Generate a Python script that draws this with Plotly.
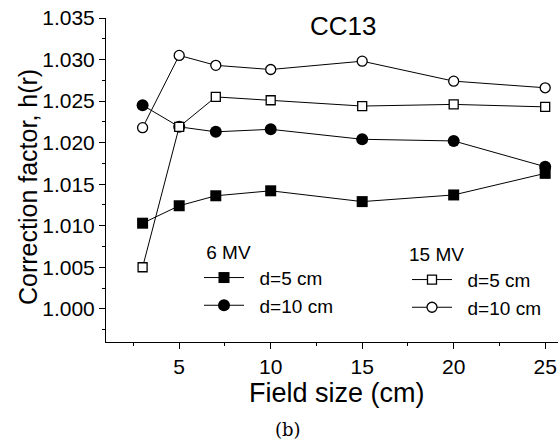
import plotly.graph_objects as go

field_size = [3, 5, 7, 10, 15, 20, 25]
mv6_d5 = [1.0103, 1.0124, 1.0136, 1.0142, 1.0129, 1.0137, 1.0163]
mv6_d10 = [1.0245, 1.0219, 1.0213, 1.0216, 1.0204, 1.0202, 1.0171]
mv15_d5 = [1.0050, 1.0219, 1.0255, 1.0251, 1.0244, 1.0246, 1.0243]
mv15_d10 = [1.0218, 1.0305, 1.0293, 1.0288, 1.0298, 1.0274, 1.0266]

FONT = "Liberation Sans"
W, H = 558, 442
L, R, T = 106, 0, 18
B = H - 342
PW, PH = W - L - R, H - T - B
SP = "\u00a0"


def px(xr):
    return (xr - L) / PW


def py(yr):
    return (H - B - yr) / PH


fig = go.Figure()
line = dict(color="black", width=1)
fig.add_trace(go.Scatter(x=field_size, y=mv6_d5, mode="lines+markers", name=SP * 2 + "d=5 cm",
                         line=line, marker=dict(symbol="square", size=11, color="black"),
                         legend="legend", cliponaxis=False))
fig.add_trace(go.Scatter(x=field_size, y=mv6_d10, mode="lines+markers", name=SP * 2 + "d=10 cm",
                         line=line, marker=dict(symbol="circle", size=12, color="black"),
                         legend="legend", cliponaxis=False))
fig.add_trace(go.Scatter(x=field_size, y=mv15_d5, mode="lines+markers", name=SP * 2 + "d=5 cm",
                         line=line, marker=dict(symbol="square", size=9, color="white",
                                                line=dict(color="black", width=1.3)),
                         legend="legend2", cliponaxis=False))
fig.add_trace(go.Scatter(x=field_size, y=mv15_d10, mode="lines+markers", name=SP * 2 + "d=10 cm",
                         line=line, marker=dict(symbol="circle", size=10, color="white",
                                                line=dict(color="black", width=1.3)),
                         legend="legend2", cliponaxis=False))

axis_common = dict(showline=True, linecolor="black", linewidth=1, ticks="outside",
                   ticklen=6, tickcolor="black", showgrid=False, zeroline=False,
                   automargin=False, ticklabeloverflow="allow",
                   tickfont=dict(family=FONT, size=21, color="black"))

fig.update_layout(
    width=W, height=H,
    margin=dict(l=L, r=R, t=T, b=B),
    plot_bgcolor="white", paper_bgcolor="white",
    font=dict(family=FONT, color="black"),
    xaxis=dict(range=[1.0, 25.7], tickvals=[5, 10, 15, 20, 25],
               minor=dict(tickvals=[2.5, 7.5, 12.5, 17.5, 22.5], ticks="outside", ticklen=3, tickcolor="black"),
               **axis_common),
    yaxis=dict(range=[0.996, 1.035], tickvals=[1.000, 1.005, 1.010, 1.015, 1.020, 1.025, 1.030, 1.035],
               tickformat=".3f",
               minor=dict(dtick=0.0025, ticks="outside", ticklen=3, tickcolor="black"),
               **axis_common),
    legend=dict(x=px(199), y=py(234), xanchor="left", yanchor="top", bgcolor="rgba(0,0,0,0)",
                title=dict(text=SP + "6 MV", font=dict(size=19)), font=dict(size=19),
                tracegroupgap=0, itemwidth=40),
    legend2=dict(x=px(407), y=py(236), xanchor="left", yanchor="top", bgcolor="rgba(0,0,0,0)",
                 title=dict(text="15 MV", font=dict(size=19)), font=dict(size=19),
                 tracegroupgap=0, itemwidth=40),
    annotations=[
        dict(text="CC13", xref="paper", yref="paper", x=px(343), y=py(26), showarrow=False,
             font=dict(size=26), xanchor="center", yanchor="middle"),
        dict(text="Field size (cm)", xref="paper", yref="paper", x=px(337), y=py(393), showarrow=False,
             font=dict(size=27), xanchor="center", yanchor="middle"),
        dict(text="Correction factor, h(r)", xref="paper", yref="paper", x=px(28), y=py(187),
             showarrow=False, textangle=-90, font=dict(size=25), xanchor="center", yanchor="middle"),
        dict(text="(b)", xref="paper", yref="paper", x=px(288), y=py(429), showarrow=False,
             font=dict(family="DejaVu Serif", size=18), xanchor="center", yanchor="middle"),
    ],
)
fig.write_html("out.html", config={"displayModeBar": False},
               post_script="document.body.style.margin='0';")
